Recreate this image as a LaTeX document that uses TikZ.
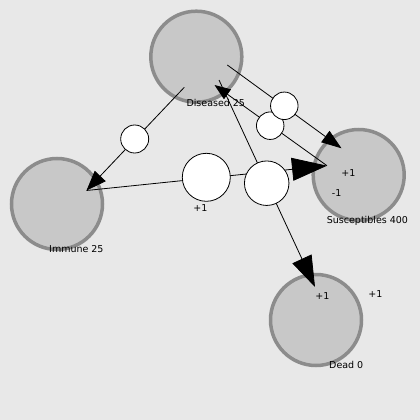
\documentclass[tikz,border=0pt]{standalone}
\usepackage{fontspec}
\setmainfont{DejaVu Sans}
\usetikzlibrary{arrows.meta}
\definecolor{bgcol}{HTML}{E8E8E8}
\definecolor{stockfill}{HTML}{C8C8C8}
\definecolor{stockline}{HTML}{8C8C8C}
\tikzset{
	stock/.style={circle, draw=stockline, fill=stockfill, line width=3.5pt, minimum size=91pt, inner sep=0pt},
	valve/.style={circle, draw=black, fill=white, line width=0.8pt, inner sep=0pt},
	flow/.style={line width=0.8pt},
	lbl/.style={inner sep=0pt, font=\fontsize{9.5}{11}\selectfont},
}

\begin{document}
\begin{tikzpicture}[x=10pt, y=-10pt]
			%%%%% START %%%%%
			
			\fill[bgcol] (0, 0) rectangle (42, 42);
			\useasboundingbox (0, 0) rectangle (42, 42);
			
			\node[stock] (diseased) at (19.63, 5.67) {};
			\node[stock] (suscept) at (35.87, 17.5) {};
			\node[stock] (immune) at (5.7, 20.4) {};
			\node[stock] (dead) at (31.6, 32.0) {};
			
			\coordinate (d1) at (18.43, 8.73);
			\coordinate (i1) at (8.65, 19.05);
			\coordinate (s1) at (32.7, 16.57);
			\coordinate (d2) at (21.45, 8.5);
			\coordinate (d3) at (22.73, 6.5);
			\coordinate (s2) at (34.15, 14.83);
			\coordinate (d4) at (21.9, 8.0);
			\coordinate (x1) at (31.5, 28.7);
			
			\draw[flow, -{Triangle[length=20pt, width=15pt]}] (d1) -- (i1);
			\draw[flow, -{Triangle[length=35pt, width=23pt]}] (i1) -- (s1);
			\draw[flow, -{Triangle[length=16pt, width=12pt]}] (s1) -- (d2);
			\draw[flow, -{Triangle[length=20pt, width=14pt]}] (d3) -- (s2);
			\draw[flow, -{Triangle[length=31pt, width=21pt]}] (d4) -- (x1);
			
			\node[valve, minimum size=28pt] (v1) at (13.47, 13.9) {};
			\node[valve, minimum size=48pt] (v2) at (20.63, 17.73) {};
			\node[valve, minimum size=27.5pt] (v3) at (27.02, 12.57) {};
			\node[valve, minimum size=27.5pt] (v4) at (28.43, 10.58) {};
			\node[valve, minimum size=44.5pt] (v5) at (26.67, 18.32) {};
			
			\node[lbl, anchor=west] (tDiseased) at (18.63, 10.27) {Diseased 25};
			\node[lbl, anchor=west] (tSuscept) at (32.67, 22.07) {Susceptibles 400};
			\node[lbl, anchor=west] (tImmune) at (4.9, 24.93) {Immune 25};
			\node[lbl, anchor=west] (tDead) at (32.9, 36.47) {Dead 0};
			
			\node[lbl] (n1) at (20.03, 20.77) {+1};
			\node[lbl] (n2) at (34.83, 17.33) {+1};
			\node[lbl] (n3) at (33.67, 19.33) {-1};
			\node[lbl] (n4) at (32.23, 29.6) {+1};
			\node[lbl] (n5) at (37.53, 29.43) {+1};
			
			%%%%% END %%%%%
\end{tikzpicture}
\end{document}
